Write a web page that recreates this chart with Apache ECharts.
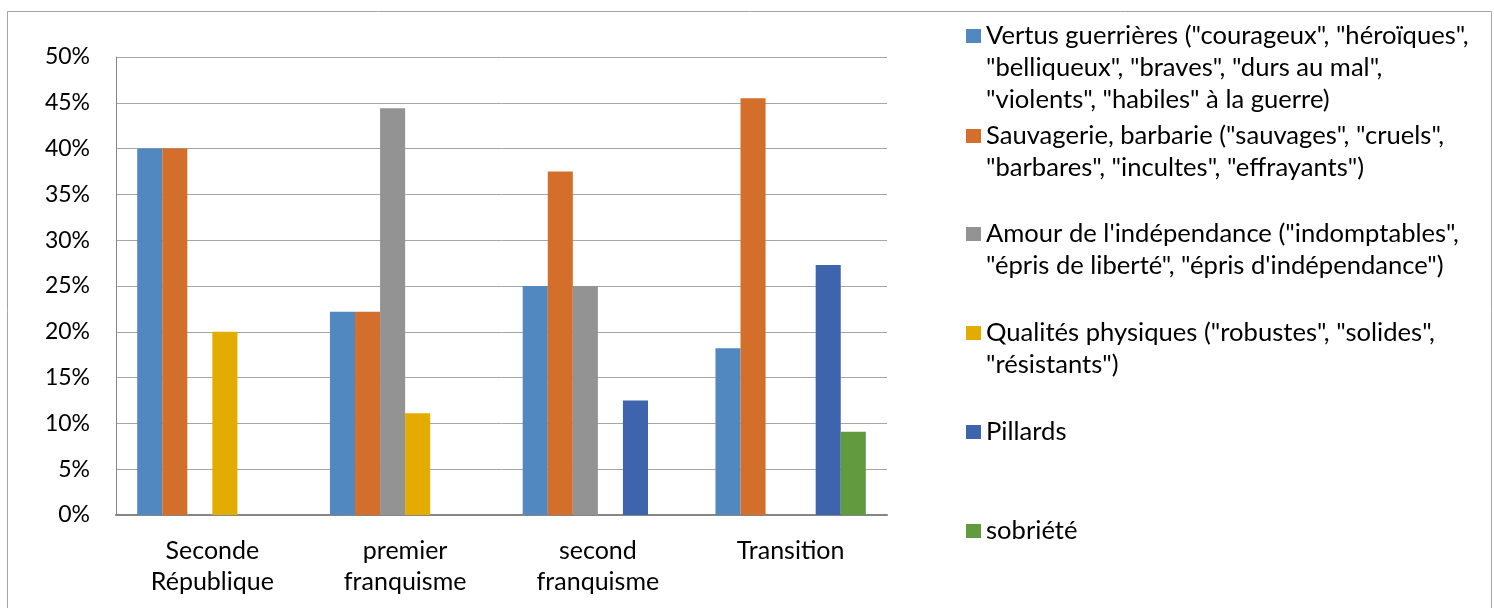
<!DOCTYPE html>
<html><head><meta charset="utf-8">
<script src="https://cdn.jsdelivr.net/npm/echarts@6/dist/echarts.min.js"></script>
<style>html,body{margin:0;padding:0;background:#fff}#c{width:1494px;height:608px}</style>
</head><body><div id="c"></div>
<script>
const categories = ['Seconde\nRépublique', 'premier\nfranquisme', 'second\nfranquisme', 'Transition'];
const seriesNames = [
  'Vertus guerrières ("courageux", "héroïques",\n"belliqueux", "braves", "durs au mal",\n"violents", "habiles" à la guerre)',
  'Sauvagerie, barbarie ("sauvages", "cruels",\n"barbares", "incultes", "effrayants")',
  'Amour de l\'indépendance ("indomptables",\n"épris de liberté", "épris d\'indépendance")',
  'Qualités physiques ("robustes", "solides",\n"résistants")',
  'Pillards',
  'sobriété'
];
const vertus = [40, 22.2, 25, 18.2];
const sauvagerie = [40, 22.2, 37.5, 45.5];
const amour = [0, 44.4, 25, 0];
const qualites = [20, 11.1, 0, 0];
const pillards = [0, 0, 12.5, 27.3];
const sobriete = [0, 0, 0, 9.1];
const yTicks = [0, 5, 10, 15, 20, 25, 30, 35, 40, 45, 50];

const colors = ['#5088BF', '#D46E2B', '#939393', '#E3AC00', '#3D64AD', '#619A3F'];
const values = [vertus, sauvagerie, amour, qualites, pillards, sobriete];
const FONT = 'Lato';
const iconCenters = [36, 136, 234, 333, 432, 531];
const lh = 32;

const chart = echarts.init(document.getElementById('c'), null, {renderer: 'canvas'});
chart.setOption({
  animation: false,
  color: colors,
  textStyle: {fontFamily: FONT},
  graphic: [{type: 'rect', shape: {x: 7.5, y: 11.5, width: 1484, height: 600}, style: {fill: 'none', stroke: '#a6a6a6', lineWidth: 1}, silent: true}],
  grid: {left: 116, top: 57, right: 607, bottom: 93},
  legend: seriesNames.map((n, i) => {
    const lines = n.split('\n').length;
    return {
      data: [n], left: 966, top: iconCenters[i] - (lines - 1) * lh - lh / 2,
      orient: 'vertical', padding: 0,
      icon: 'rect', itemWidth: 15, itemHeight: 14, itemGap: 0,
      selectedMode: false,
      formatter: name => '\n'.repeat(lines - 1) + name,
      textStyle: {fontFamily: FONT, fontSize: 25.6, color: '#000', lineHeight: lh}
    };
  }),
  xAxis: {
    type: 'category', data: categories,
    axisLine: {lineStyle: {color: '#868686', width: 2}},
    axisTick: {show: false},
    axisLabel: {fontFamily: FONT, fontSize: 25, color: '#000', lineHeight: 31, margin: 20}
  },
  yAxis: {
    type: 'value', min: 0, max: 50, interval: 5,
    axisLine: {show: true, lineStyle: {color: '#868686', width: 1}},
    axisTick: {show: false},
    splitLine: {lineStyle: {color: '#a6a6a6', width: 1}},
    axisLabel: {fontFamily: FONT, fontSize: 23, color: '#000', margin: 26, formatter: v => v + '%'}
  },
  series: values.map((d, i) => ({
    type: 'bar', name: seriesNames[i], data: d,
    barGap: '0%', barCategoryGap: '22%',
    itemStyle: {color: colors[i]}
  }))
});
</script></body></html>
